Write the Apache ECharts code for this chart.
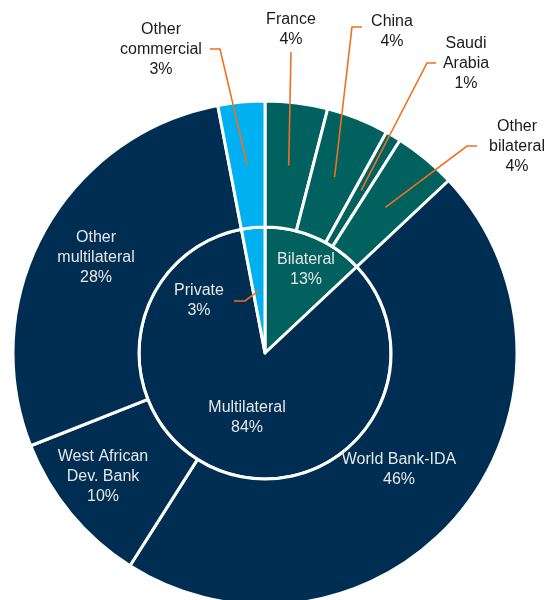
<!DOCTYPE html>
<html><head><meta charset="utf-8">
<script src="https://cdn.jsdelivr.net/npm/echarts@6/dist/echarts.min.js"></script>
<style>html,body{margin:0;padding:0;background:#fff}#c{width:548px;height:600px}</style>
</head><body><div id="c"></div>
<script>
// ---- data ----
const innerCategories = ['Bilateral', 'Multilateral', 'Private'];
const innerValues = [13, 84, 3];
const outerCategories = ['France', 'China', 'Saudi\nArabia', 'Other\nbilateral', 'World Bank-IDA', 'West African\nDev. Bank', 'Other\nmultilateral', 'Other\ncommercial'];
const outerValues = [4, 4, 1, 4, 46, 10, 28, 3];
const outerParent = [0, 0, 0, 0, 1, 1, 1, 2];

// ---- style / layout ----
const groupColors = ['#00615F', '#002E52', '#00B0F0'];
const orange = '#F0701E';
const lightText = '#E6E6E6';
const darkText = '#1A1A1A';
const CX = 265, CY = 353, R_IN = 126, R_OUT = 252;

const labelPos = {
  'Bilateral': [306, 270], 'Multilateral': [247, 418], 'Private': [199, 301],
  'France': [291, 30], 'China': [392, 32], 'Saudi Arabia': [466, 64], 'Other bilateral': [517, 147],
  'World Bank-IDA': [399, 470], 'West African Dev. Bank': [103, 477], 'Other multilateral': [96, 258],
  'Other commercial': [161, 50]
};
// [elbow, attach] points of leader lines
const leaderAnchors = {
  'France': [[291, 52], [291, 52]],
  'China': [[352, 27], [362, 27]],
  'Saudi Arabia': [[427, 63], [436, 63]],
  'Other bilateral': [[467, 146], [477, 146]],
  'Other commercial': [[220, 49], [210, 49]],
  'Private': [[245, 301], [234, 301]]
};
const keyOf = n => n.replace(/\n/g, ' ');

const chart = echarts.init(document.getElementById('c'), null, {renderer: 'canvas'});

function mkItem(name, value, color, overlay) {
  const lead = !!leaderAnchors[keyOf(name)];
  const onDark = !lead || keyOf(name) === 'Private';
  if (!overlay) return {name, value, itemStyle: {color}};
  return {
    name, value,
    label: {position: lead ? 'outside' : 'inside', color: onDark ? lightText : darkText},
    labelLine: {show: lead}
  };
}

function layoutFn(params) {
  const s = params.seriesIndex, i = params.dataIndex;
  const isInner = (s === 2);
  const name = keyOf(isInner ? innerCategories[i] : outerCategories[i]);
  const pos = labelPos[name];
  const res = {x: pos[0], y: pos[1], align: 'center', verticalAlign: 'middle'};
  const anc = leaderAnchors[name];
  if (anc) {
    let p;
    try {
      const lay = chart.getModel().getSeriesByIndex(s).getData().getItemLayout(i);
      const mid = (lay.startAngle + lay.endAngle) / 2;
      const rr = lay.r0 > 0 ? (lay.r + lay.r0) / 2 : lay.r / 2;
      p = [lay.cx + rr * Math.cos(mid), lay.cy + rr * Math.sin(mid)];
    } catch (e) {
      p = params.labelLinePoints ? params.labelLinePoints[0] : anc[0];
    }
    res.labelLinePoints = [p, anc[0], anc[1]];
  }
  return res;
}

const base = {
  type: 'pie',
  center: [CX, CY],
  startAngle: 90,
  clockwise: true,
  avoidLabelOverlap: false,
  animation: false,
  silent: true,
  emphasis: {disabled: true}
};

const baseSeries = Object.assign({}, base, {
  z: 2,
  itemStyle: {borderColor: '#ffffff', borderWidth: 3},
  label: {show: false},
  labelLine: {show: false}
});

const overlaySeries = Object.assign({}, base, {
  z: 5,
  itemStyle: {color: 'rgba(0,0,0,0)', borderWidth: 0},
  label: {
    show: true,
    formatter: '{b}\n{c}%',
    fontFamily: '"Liberation Sans", Arial, sans-serif',
    fontSize: 16,
    lineHeight: 20,
    align: 'center'
  },
  labelLine: {show: false, smooth: false, lineStyle: {color: orange, width: 1.6}},
  labelLayout: layoutFn
});

chart.setOption({
  backgroundColor: '#ffffff',
  animation: false,
  series: [
    Object.assign({}, baseSeries, {name: 'inner', radius: [0, R_IN],
      data: innerCategories.map((n, i) => mkItem(n, innerValues[i], groupColors[i], false))}),
    Object.assign({}, baseSeries, {name: 'outer', radius: [R_IN, R_OUT],
      data: outerCategories.map((n, i) => mkItem(n, outerValues[i], groupColors[outerParent[i]], false))}),
    Object.assign({}, overlaySeries, {name: 'innerLabels', radius: [0, R_IN],
      data: innerCategories.map((n, i) => mkItem(n, innerValues[i], null, true))}),
    Object.assign({}, overlaySeries, {name: 'outerLabels', radius: [R_IN, R_OUT],
      data: outerCategories.map((n, i) => mkItem(n, outerValues[i], null, true))})
  ]
});
</script>
</body></html>
